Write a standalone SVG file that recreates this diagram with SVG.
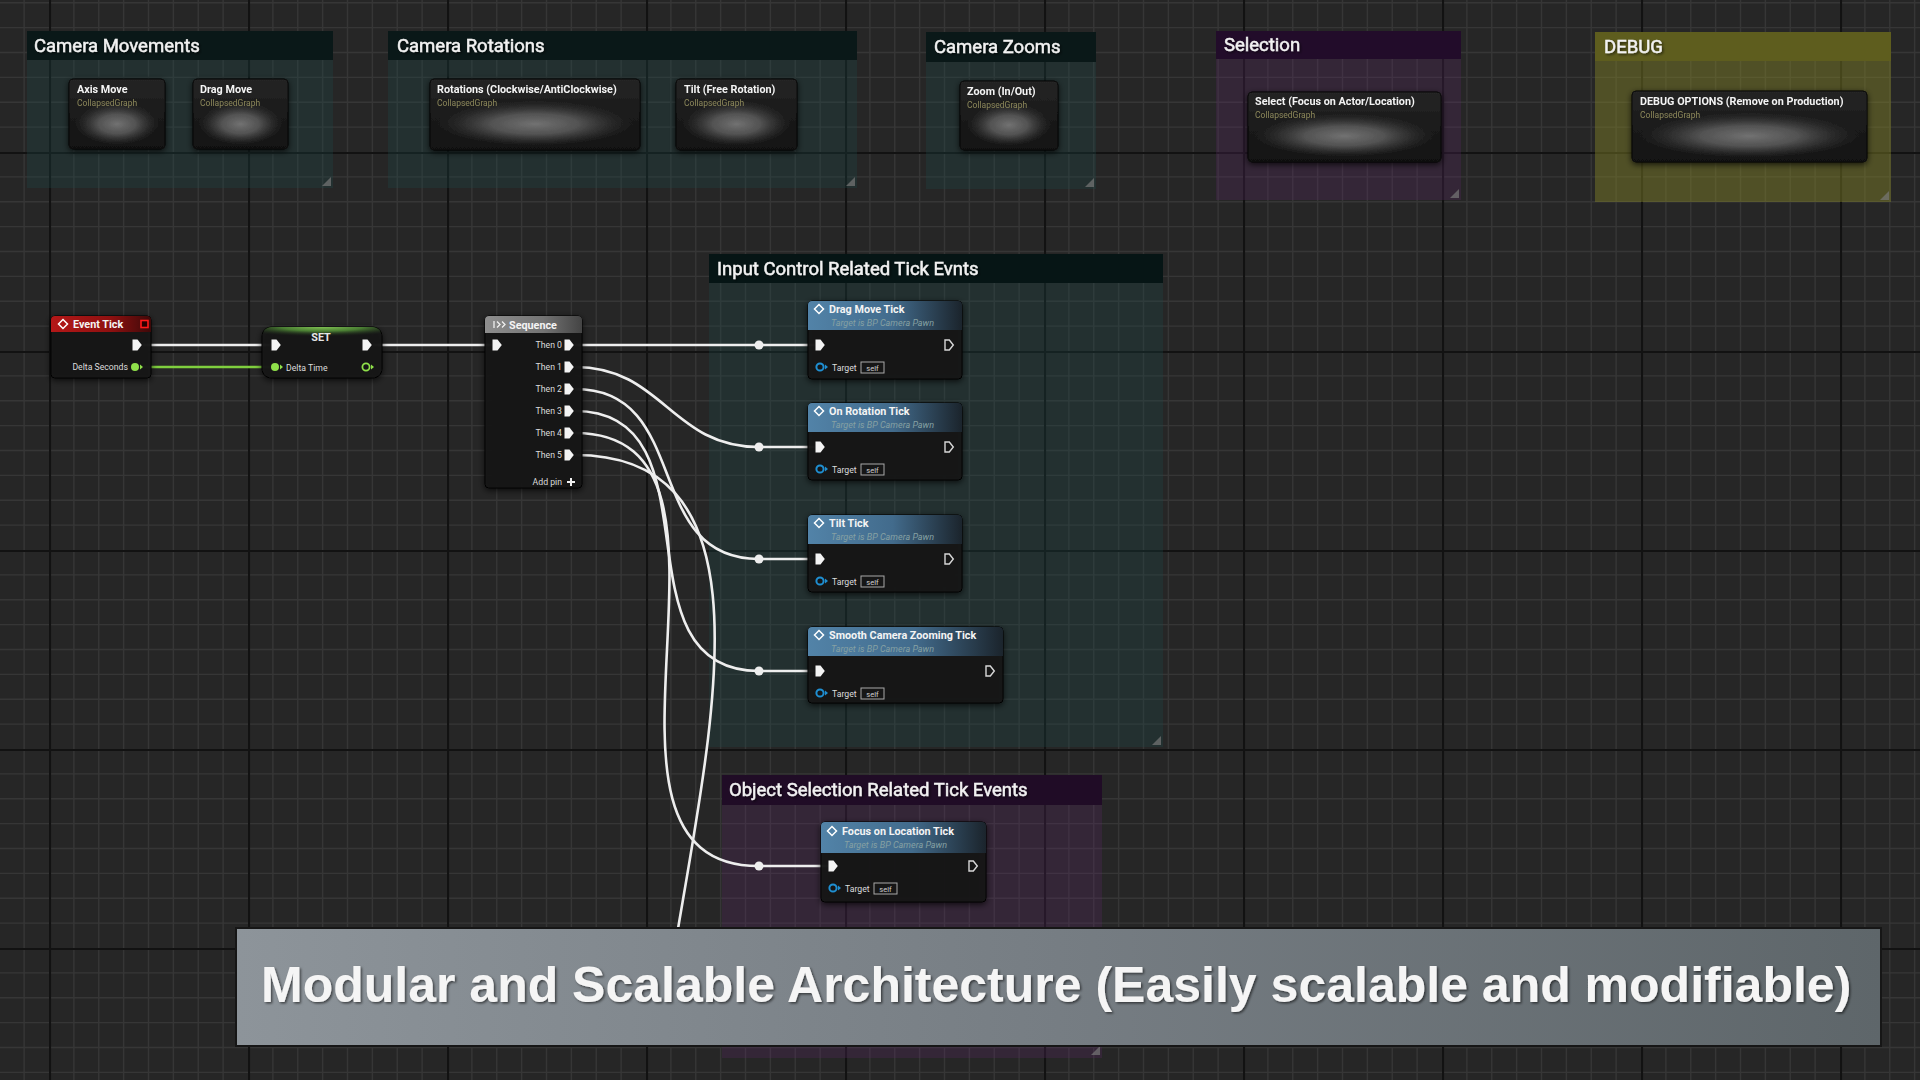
<svg xmlns="http://www.w3.org/2000/svg" width="1920" height="1080" viewBox="0 0 1920 1080">
<defs>
<pattern id="grid" patternUnits="userSpaceOnUse" x="49" y="152" width="199" height="199">
<rect width="199" height="199" fill="#262626"/>
<path d="M24.875,0V199M49.75,0V199M74.625,0V199M99.5,0V199M124.375,0V199M149.25,0V199M174.125,0V199M0,24.875H199M0,49.75H199M0,74.625H199M0,99.5H199M0,124.375H199M0,149.25H199M0,174.125H199" stroke="#363636" stroke-width="1.3"/>
<path d="M1,0V199M0,1H199" stroke="#121212" stroke-width="2.2"/>
</pattern>
<linearGradient id="hdrBlue" x1="0" y1="0" x2="1" y2="0">
<stop offset="0" stop-color="#5283a8"/><stop offset="0.55" stop-color="#426b8c"/><stop offset="1" stop-color="#1b242c"/>
</linearGradient>
<linearGradient id="hdrRed" x1="0" y1="0" x2="1" y2="0">
<stop offset="0" stop-color="#b51818"/><stop offset="0.6" stop-color="#8e1010"/><stop offset="1" stop-color="#3e0909"/>
</linearGradient>
<linearGradient id="hdrGray" x1="0" y1="0" x2="1" y2="0">
<stop offset="0" stop-color="#8e8e8e"/><stop offset="0.6" stop-color="#747474"/><stop offset="1" stop-color="#444"/>
</linearGradient>
<radialGradient id="hdrGreen" cx="0.5" cy="0" r="0.75" gradientTransform="translate(0.5,0) scale(1,0.45) translate(-0.5,0)">
<stop offset="0" stop-color="#7fc052"/><stop offset="0.45" stop-color="#4a7e33"/><stop offset="1" stop-color="#1c241a" stop-opacity="0"/>
</radialGradient>
<linearGradient id="collBody" x1="0" y1="0" x2="0" y2="1">
<stop offset="0" stop-color="#252525"/><stop offset="1" stop-color="#111"/>
</linearGradient>
<radialGradient id="collGlow">
<stop offset="0" stop-color="#727272"/><stop offset="0.45" stop-color="#5c5c5c" stop-opacity="0.85"/><stop offset="1" stop-color="#3a3a3a" stop-opacity="0"/>
</radialGradient>
<linearGradient id="bannerFill" x1="0" y1="0" x2="1" y2="0">
<stop offset="0" stop-color="#8d949a"/><stop offset="0.5" stop-color="#767d83"/><stop offset="1" stop-color="#5e666a"/>
</linearGradient>
<clipPath id="underBanner"><rect x="0" y="0" width="1920" height="1040"/></clipPath>
<filter id="shadow" x="-20%" y="-20%" width="140%" height="150%">
<feDropShadow dx="0" dy="2" stdDeviation="3" flood-color="#000" flood-opacity="0.75"/>
</filter>
<filter id="tshadow" x="-5%" y="-20%" width="110%" height="150%">
<feDropShadow dx="1.5" dy="1.5" stdDeviation="1" flood-color="#000" flood-opacity="0.55"/>
</filter>
<path id="execF" d="M-4.5,-5.5H0.5L4.8,0L0.5,5.5H-4.5Z" fill="#f4f4f4"/>
<path id="execO" d="M-4,-5H0.3L4.3,0L0.3,5H-4Z" fill="none" stroke="#d8d8d8" stroke-width="1.4"/>
<g id="objPin"><circle r="3.6" fill="none" stroke="#1f8fd2" stroke-width="2"/><path d="M5,-2.5L8,0L5,2.5Z" fill="#1f8fd2"/></g>
<g id="floatF"><circle r="4" fill="#8fe04a"/><path d="M5,-2.5L8,0L5,2.5Z" fill="#8fe04a"/></g>
<g id="floatO"><circle r="3.6" fill="none" stroke="#8fe04a" stroke-width="1.8"/><path d="M5,-2.5L8,0L5,2.5Z" fill="#8fe04a"/></g>
<path id="diamond" d="M0,-4.5L4.5,0L0,4.5L-4.5,0Z" fill="none" stroke="#fff" stroke-width="1.5"/>
<path id="corner" d="M-2,-11V-2H-11Z" fill="#777" opacity="0.7"/>
</defs>
<style>
.ct{font-family:Roboto,"Noto Sans",sans-serif;font-size:18.5px;fill:#f2f2f2;stroke:#f2f2f2;stroke-width:0.45px}
.nt{font-family:Roboto,"Noto Sans",sans-serif;font-weight:bold;font-size:10.8px;fill:#f4f4f4}
.cs{font-family:Roboto,"Noto Sans",sans-serif;font-size:8.5px;fill:#8c875a}
.fs{font-family:Roboto,"Noto Sans",sans-serif;font-style:italic;font-size:9px;fill:#86a1a3}
.pl{font-family:Roboto,"Noto Sans",sans-serif;font-size:8.7px;fill:#dcdcdc}
.sf{font-family:Roboto,"Noto Sans",sans-serif;font-size:7.5px;fill:#cfcfcf}
.wire{fill:none;stroke:#eeeeee;stroke-width:2.6}
.knot{fill:#eeeeee}
.nbody{fill:#141414;fill-opacity:0.94;stroke:#060606;stroke-width:1}
.coll{fill:url(#collBody);stroke:#080808;stroke-width:1}
.gl{fill:url(#collGlow)}
.banner{font-family:"Liberation Sans",Arial,sans-serif;font-weight:bold;font-size:50px;fill:#f5f5f5}
</style>

<rect width="1920" height="1080" fill="url(#grid)"/>

<!-- Comment boxes -->
<g id="comment-camera-movements">
<rect x="27" y="31" width="306" height="157" fill="#1e4a4a" fill-opacity="0.3"/>
<rect x="27" y="31" width="306" height="29" fill="#0a1818"/>
<text class="ct" x="34" y="52" filter="url(#tshadow)">Camera Movements</text>
<use href="#corner" x="333" y="188"/>
</g>
<g id="comment-camera-rotations">
<rect x="388" y="31" width="469" height="157" fill="#1e4a4a" fill-opacity="0.3"/>
<rect x="388" y="31" width="469" height="29" fill="#0a1818"/>
<text class="ct" x="397" y="52" filter="url(#tshadow)">Camera Rotations</text>
<use href="#corner" x="857" y="188"/>
</g>
<g id="comment-camera-zooms">
<rect x="926" y="32" width="170" height="157" fill="#1e4a4a" fill-opacity="0.3"/>
<rect x="926" y="32" width="170" height="30" fill="#0a1818"/>
<text class="ct" x="934" y="53" filter="url(#tshadow)">Camera Zooms</text>
<use href="#corner" x="1096" y="189"/>
</g>
<g id="comment-selection">
<rect x="1216" y="31" width="245" height="169" fill="#5a2864" fill-opacity="0.28"/>
<rect x="1216" y="31" width="245" height="28" fill="#220c2a"/>
<text class="ct" x="1224" y="51" filter="url(#tshadow)">Selection</text>
<use href="#corner" x="1461" y="200"/>
</g>
<g id="comment-debug">
<rect x="1595" y="32" width="296" height="170" fill="#828228" fill-opacity="0.46"/>
<rect x="1595" y="32" width="296" height="29" fill="#5e5d1e"/>
<text class="ct" x="1604" y="53" filter="url(#tshadow)">DEBUG</text>
<use href="#corner" x="1891" y="202"/>
</g>
<g id="comment-input-control">
<rect x="709" y="254" width="454" height="493" fill="#1e4a4a" fill-opacity="0.3"/>
<rect x="709" y="254" width="454" height="29" fill="#061515"/>
<text class="ct" x="717" y="275" filter="url(#tshadow)">Input Control Related Tick Evnts</text>
<use href="#corner" x="1163" y="747"/>
</g>
<g id="comment-object-selection">
<rect x="722" y="775" width="380" height="283" fill="#5a2864" fill-opacity="0.28"/>
<rect x="722" y="775" width="380" height="30" fill="#200c26"/>
<text class="ct" x="729" y="796" filter="url(#tshadow)">Object Selection Related Tick Events</text>
<use href="#corner" x="1102" y="1057"/>
</g>

<!-- Collapsed graph nodes -->
<g id="node-axis-move" filter="url(#shadow)">
<rect class="coll" x="69" y="79" width="96" height="70" rx="4"/>
<ellipse class="gl" cx="117" cy="124" rx="42" ry="22"/>
<text class="nt" x="77" y="93">Axis Move</text>
<text class="cs" x="77" y="106">CollapsedGraph</text>
</g>
<g id="node-drag-move" filter="url(#shadow)">
<rect class="coll" x="193" y="79" width="95" height="70" rx="4"/>
<ellipse class="gl" cx="240.5" cy="124" rx="42" ry="22"/>
<text class="nt" x="200" y="93">Drag Move</text>
<text class="cs" x="200" y="106">CollapsedGraph</text>
</g>
<g id="node-rotations" filter="url(#shadow)">
<rect class="coll" x="430" y="79" width="210" height="71" rx="4"/>
<ellipse class="gl" cx="535" cy="124" rx="98" ry="23"/>
<text class="nt" x="437" y="93">Rotations (Clockwise/AntiClockwise)</text>
<text class="cs" x="437" y="106">CollapsedGraph</text>
</g>
<g id="node-tilt" filter="url(#shadow)">
<rect class="coll" x="676" y="79" width="121" height="71" rx="4"/>
<ellipse class="gl" cx="736.5" cy="124" rx="54" ry="23"/>
<text class="nt" x="684" y="93">Tilt (Free Rotation)</text>
<text class="cs" x="684" y="106">CollapsedGraph</text>
</g>
<g id="node-zoom" filter="url(#shadow)">
<rect class="coll" x="960" y="81" width="98" height="69" rx="4"/>
<ellipse class="gl" cx="1009" cy="125" rx="42" ry="22"/>
<text class="nt" x="967" y="95">Zoom (In/Out)</text>
<text class="cs" x="967" y="108">CollapsedGraph</text>
</g>
<g id="node-select" filter="url(#shadow)">
<rect class="coll" x="1248" y="92" width="193" height="70" rx="4"/>
<ellipse class="gl" cx="1344.5" cy="136" rx="90" ry="22"/>
<text class="nt" x="1255" y="105">Select (Focus on Actor/Location)</text>
<text class="cs" x="1255" y="118">CollapsedGraph</text>
</g>
<g id="node-debug-options" filter="url(#shadow)">
<rect class="coll" x="1632" y="91" width="235" height="71" rx="4"/>
<ellipse class="gl" cx="1749.5" cy="136" rx="110" ry="23"/>
<text class="nt" x="1640" y="105">DEBUG OPTIONS (Remove on Production)</text>
<text class="cs" x="1640" y="118">CollapsedGraph</text>
</g>

<!-- Connectors -->
<g id="connectors">
<path class="wire" d="M143,345H271"/>
<path d="M141,367H271" fill="none" stroke="#7fcf3e" stroke-width="2.4"/>
<path class="wire" d="M373,345H492"/>
<path class="wire" d="M575,345H815"/>
<path class="wire" d="M575,367C663,367 671,447 759,447H815"/>
<path class="wire" d="M575,389C693,389 641,559 759,559H815"/>
<path class="wire" d="M575,411C723,411 611,671 759,671H815"/>
<path class="wire" d="M575,433C781,433 553,866 759,866H828"/>
<path class="wire" d="M575,455C945,455 420,1350 790,1350" clip-path="url(#underBanner)"/>
<circle class="knot" cx="759" cy="345" r="4.5"/>
<circle class="knot" cx="759" cy="447" r="4.5"/>
<circle class="knot" cx="759" cy="559" r="4.5"/>
<circle class="knot" cx="759" cy="671" r="4.5"/>
<circle class="knot" cx="759" cy="866" r="4.5"/>
</g>

<!-- Event Tick -->
<g id="node-event-tick" transform="translate(51,316)">
<rect class="nbody" width="100" height="62" rx="4" filter="url(#shadow)"/>
<path d="M4,0H96A4,4 0 0 1 100,4V16H0V4A4,4 0 0 1 4,0Z" fill="url(#hdrRed)"/>
<use href="#diamond" x="12" y="8"/>
<text class="nt" x="22" y="12">Event Tick</text>
<rect x="90" y="4.5" width="7" height="7" fill="#2a0000" stroke="#ff1a1a" stroke-width="1.6"/>
<use href="#execF" x="86" y="29"/>
<text class="pl" x="77" y="54" text-anchor="end">Delta Seconds</text>
<use href="#floatF" x="84" y="51"/>
</g>

<!-- SET -->
<g id="node-set" transform="translate(262,327)">
<rect class="nbody" width="120" height="51" rx="9" filter="url(#shadow)"/>
<path d="M9,0H111A9,9 0 0 1 120,9V28H0V9A9,9 0 0 1 9,0Z" fill="url(#hdrGreen)"/>
<text class="nt" x="59" y="14" text-anchor="middle" style="fill:#e6e6e6">SET</text>
<use href="#execF" x="14" y="18"/>
<use href="#execF" x="105" y="18"/>
<use href="#floatF" x="13" y="40"/>
<text class="pl" x="24" y="43.5">Delta Time</text>
<use href="#floatO" x="104" y="40"/>
</g>

<!-- Sequence -->
<g id="node-sequence" transform="translate(485,316)">
<rect class="nbody" width="97" height="172" rx="4" filter="url(#shadow)"/>
<path d="M4,0H93A4,4 0 0 1 97,4V17H0V4A4,4 0 0 1 4,0Z" fill="url(#hdrGray)"/>
<path d="M9,5V12M12,5.5L15,8.5L12,11.5M17,5.5L20,8.5L17,11.5" fill="none" stroke="#f0f0f0" stroke-width="1.3"/>
<text class="nt" x="24" y="12.5">Sequence</text>
<use href="#execF" x="12" y="29"/>
<text class="pl" x="77" y="32" text-anchor="end">Then 0</text>
<text class="pl" x="77" y="54" text-anchor="end">Then 1</text>
<text class="pl" x="77" y="76" text-anchor="end">Then 2</text>
<text class="pl" x="77" y="98" text-anchor="end">Then 3</text>
<text class="pl" x="77" y="120" text-anchor="end">Then 4</text>
<text class="pl" x="77" y="142" text-anchor="end">Then 5</text>
<use href="#execF" x="84" y="29"/>
<use href="#execF" x="84" y="51"/>
<use href="#execF" x="84" y="73"/>
<use href="#execF" x="84" y="95"/>
<use href="#execF" x="84" y="117"/>
<use href="#execF" x="84" y="139"/>
<text class="pl" x="77" y="169" text-anchor="end">Add pin</text>
<path d="M86,162V170M82,166H90" stroke="#f0f0f0" stroke-width="2"/>
</g>

<!-- Function call nodes -->
<g id="node-drag-move-tick" transform="translate(808,301)">
<rect class="nbody" width="154" height="78" rx="4" filter="url(#shadow)"/>
<path d="M4,0H150A4,4 0 0 1 154,4V29H0V4A4,4 0 0 1 4,0Z" fill="url(#hdrBlue)"/>
<use href="#diamond" x="11" y="8"/>
<text class="nt" x="21" y="12">Drag Move Tick</text>
<text class="fs" x="23" y="25">Target is BP Camera Pawn</text>
<use href="#execF" x="12" y="44"/>
<use href="#execO" x="141" y="44"/>
<use href="#objPin" x="12" y="66"/>
<text class="pl" x="24" y="69.5">Target</text>
<rect x="53" y="61" width="23" height="11" fill="none" stroke="#a8a8a8" stroke-width="1"/>
<text class="sf" x="64.5" y="69.5" text-anchor="middle">self</text>
</g>
<g id="node-on-rotation-tick" transform="translate(808,403)">
<rect class="nbody" width="154" height="77" rx="4" filter="url(#shadow)"/>
<path d="M4,0H150A4,4 0 0 1 154,4V29H0V4A4,4 0 0 1 4,0Z" fill="url(#hdrBlue)"/>
<use href="#diamond" x="11" y="8"/>
<text class="nt" x="21" y="12">On Rotation Tick</text>
<text class="fs" x="23" y="25">Target is BP Camera Pawn</text>
<use href="#execF" x="12" y="44"/>
<use href="#execO" x="141" y="44"/>
<use href="#objPin" x="12" y="66"/>
<text class="pl" x="24" y="69.5">Target</text>
<rect x="53" y="61" width="23" height="11" fill="none" stroke="#a8a8a8" stroke-width="1"/>
<text class="sf" x="64.5" y="69.5" text-anchor="middle">self</text>
</g>
<g id="node-tilt-tick" transform="translate(808,515)">
<rect class="nbody" width="154" height="77" rx="4" filter="url(#shadow)"/>
<path d="M4,0H150A4,4 0 0 1 154,4V29H0V4A4,4 0 0 1 4,0Z" fill="url(#hdrBlue)"/>
<use href="#diamond" x="11" y="8"/>
<text class="nt" x="21" y="12">Tilt Tick</text>
<text class="fs" x="23" y="25">Target is BP Camera Pawn</text>
<use href="#execF" x="12" y="44"/>
<use href="#execO" x="141" y="44"/>
<use href="#objPin" x="12" y="66"/>
<text class="pl" x="24" y="69.5">Target</text>
<rect x="53" y="61" width="23" height="11" fill="none" stroke="#a8a8a8" stroke-width="1"/>
<text class="sf" x="64.5" y="69.5" text-anchor="middle">self</text>
</g>
<g id="node-smooth-camera-zooming-tick" transform="translate(808,627)">
<rect class="nbody" width="195" height="76" rx="4" filter="url(#shadow)"/>
<path d="M4,0H191A4,4 0 0 1 195,4V29H0V4A4,4 0 0 1 4,0Z" fill="url(#hdrBlue)"/>
<use href="#diamond" x="11" y="8"/>
<text class="nt" x="21" y="12">Smooth Camera Zooming Tick</text>
<text class="fs" x="23" y="25">Target is BP Camera Pawn</text>
<use href="#execF" x="12" y="44"/>
<use href="#execO" x="182" y="44"/>
<use href="#objPin" x="12" y="66"/>
<text class="pl" x="24" y="69.5">Target</text>
<rect x="53" y="61" width="23" height="11" fill="none" stroke="#a8a8a8" stroke-width="1"/>
<text class="sf" x="64.5" y="69.5" text-anchor="middle">self</text>
</g>
<g id="node-focus-on-location-tick" transform="translate(821,822)">
<rect class="nbody" width="165" height="80" rx="4" filter="url(#shadow)"/>
<path d="M4,0H161A4,4 0 0 1 165,4V31H0V4A4,4 0 0 1 4,0Z" fill="url(#hdrBlue)"/>
<use href="#diamond" x="11" y="9"/>
<text class="nt" x="21" y="13">Focus on Location Tick</text>
<text class="fs" x="23" y="26">Target is BP Camera Pawn</text>
<use href="#execF" x="12" y="44"/>
<use href="#execO" x="152" y="44"/>
<use href="#objPin" x="12" y="66"/>
<text class="pl" x="24" y="69.5">Target</text>
<rect x="53" y="61" width="23" height="11" fill="none" stroke="#a8a8a8" stroke-width="1"/>
<text class="sf" x="64.5" y="69.5" text-anchor="middle">self</text>
</g>

<!-- Banner -->
<g id="banner">
<rect x="236" y="928" width="1645" height="118" fill="url(#bannerFill)" stroke="#161616" stroke-width="2"/>
<text class="banner" x="261" y="1002" filter="url(#tshadow)">Modular and Scalable Architecture (Easily scalable and modifiable)</text>
</g>
</svg>
